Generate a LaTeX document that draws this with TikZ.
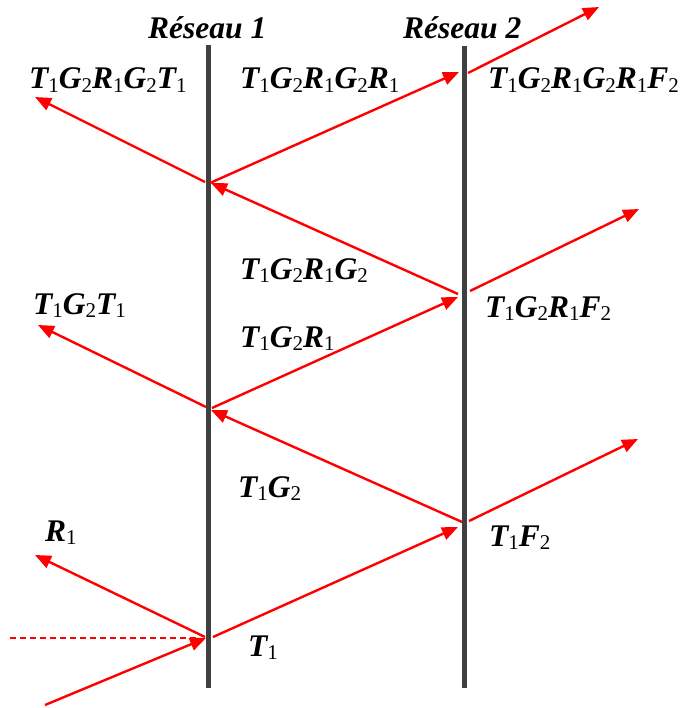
\documentclass[tikz,border=0pt]{standalone}
\usepackage{fontspec}
\setmainfont{Liberation Serif}
\usetikzlibrary{arrows.meta}
\definecolor{grating}{RGB}{64,64,64}
\definecolor{ray}{RGB}{255,0,0}
\newcommand\subs[1]{\raisebox{-3.5pt}{\fontsize{21}{21}\selectfont\mdseries\upshape #1}}
\tikzset{
  gratingline/.style={draw=grating, line width=5pt},
  rayline/.style={draw=ray, line width=2.4pt},
  rayarrow/.style={rayline, -{Triangle[length=16pt,width=13pt]}},
  raydash/.style={rayline, dash pattern=on 6pt off 4pt},
  lab/.style={inner sep=0pt, anchor=base west, font=\fontsize{31.5}{31.5}\selectfont\bfseries\itshape},
}
\begin{document}
\begin{tikzpicture}[x=1pt,y=-1pt]
\useasboundingbox (0,0) rectangle (682,708);
% gratings
\coordinate (g1top) at (208,45);
\coordinate (g1bot) at (208,688);
\coordinate (g2top) at (464,46);
\coordinate (g2bot) at (464,688);
\draw[gratingline] (g1top) -- (g1bot);
\draw[gratingline] (g2top) -- (g2bot);
% ray points
\coordinate (src) at (45,705);
\coordinate (dsrc) at (10,638);
\coordinate (dend) at (200,638);
\coordinate (hitA) at (206,638);
\coordinate (outA) at (205,637);
\coordinate (outAt) at (213,637);
\coordinate (r1) at (35,555);
\coordinate (inB) at (458,527);
\coordinate (outBt) at (469,521);
\coordinate (outBr) at (462,522);
\coordinate (f1) at (638,439);
\coordinate (inC) at (211,410);
\coordinate (outCl) at (206,407);
\coordinate (outCr) at (212,408);
\coordinate (t1) at (38,325);
\coordinate (inD) at (458,297);
\coordinate (outDt) at (470,291);
\coordinate (outDr) at (458,294);
\coordinate (f2) at (639,209);
\coordinate (inE) at (211,183);
\coordinate (outEl) at (205,182);
\coordinate (outEr) at (210,183);
\coordinate (t2) at (35,97);
\coordinate (inF) at (459,72);
\coordinate (outFt) at (468,73);
\coordinate (f3) at (599,7);
% rays
\draw[raydash] (dsrc) -- (dend);
\draw[rayarrow] (src) -- (hitA);
\draw[rayarrow] (outA) -- (r1);
\draw[rayarrow] (outAt) -- (inB);
\draw[rayarrow] (outBt) -- (f1);
\draw[rayarrow] (outBr) -- (inC);
\draw[rayarrow] (outCl) -- (t1);
\draw[rayarrow] (outCr) -- (inD);
\draw[rayarrow] (outDt) -- (f2);
\draw[rayarrow] (outDr) -- (inE);
\draw[rayarrow] (outEl) -- (t2);
\draw[rayarrow] (outEr) -- (inF);
\draw[rayarrow] (outFt) -- (f3);
% labels
\node[lab] (res1) at (148,39) {Réseau 1};
\node[lab] (res2) at (403,39) {Réseau 2};
\node[lab] (lt2) at (29,89) {T\subs{1}G\subs{2}R\subs{1}G\subs{2}T\subs{1}};
\node[lab] (lr2) at (240,89) {T\subs{1}G\subs{2}R\subs{1}G\subs{2}R\subs{1}};
\node[lab] (lf3) at (488,89) {T\subs{1}G\subs{2}R\subs{1}G\subs{2}R\subs{1}F\subs{2}};
\node[lab] (lg2) at (240,279) {T\subs{1}G\subs{2}R\subs{1}G\subs{2}};
\node[lab] (lt1) at (33,314) {T\subs{1}G\subs{2}T\subs{1}};
\node[lab] (lf2) at (485,317) {T\subs{1}G\subs{2}R\subs{1}F\subs{2}};
\node[lab] (lr1) at (240,347) {T\subs{1}G\subs{2}R\subs{1}};
\node[lab] (lg1) at (238,497) {T\subs{1}G\subs{2}};
\node[lab] (lrr) at (45,541) {R\subs{1}};
\node[lab] (lf1) at (489,546) {T\subs{1}F\subs{2}};
\node[lab] (ltt) at (248,656) {T\subs{1}};
\end{tikzpicture}
\end{document}
